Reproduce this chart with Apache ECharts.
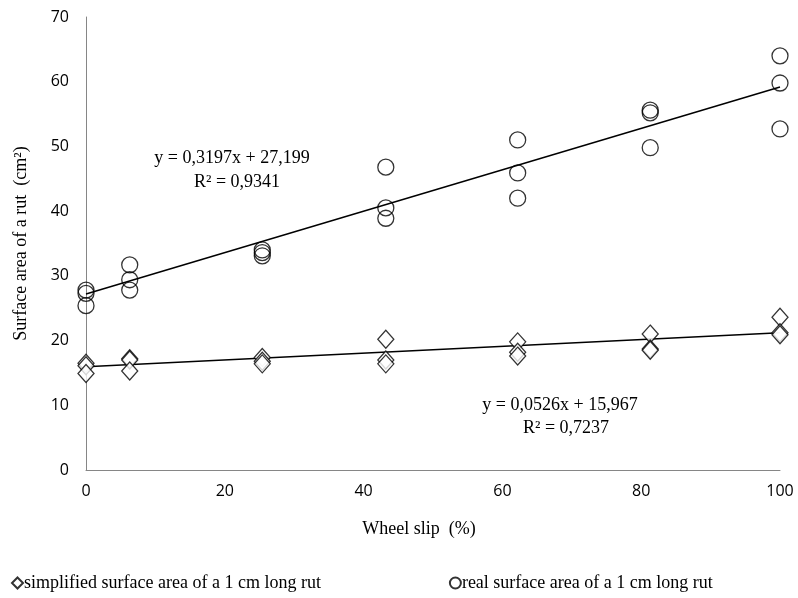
<!DOCTYPE html>
<html>
<head>
<meta charset="utf-8">
<script src="https://cdn.jsdelivr.net/npm/echarts@6/dist/echarts.min.js"></script>
<style>
  html, body { margin: 0; padding: 0; background: #fff; }
  #chart { width: 798px; height: 598px; }
</style>
</head>
<body>
<div id="chart"></div>
<script>
// wheel slip levels (%)
const slipX = [0, 6.3, 25.4, 43.2, 62.2, 81.3, 100]
// three repetitions per slip level
const realArea = [
    [27.8, 27.3, 25.4],
    [31.7, 29.4, 27.8],
    [34.0, 33.6, 33.1],
    [46.8, 40.5, 38.9],
    [51.0, 45.9, 42.0],
    [55.6, 55.2, 49.8],
    [64.0, 59.8, 52.7]
]
const simpArea = [
    [16.5, 16.1, 14.9],
    [17.2, 17.0, 15.3],
    [17.4, 16.8, 16.4],
    [20.2, 17.0, 16.4],
    [19.8, 18.2, 17.6],
    [21.0, 18.7, 18.5],
    [23.6, 21.2, 20.9]
]
// linear trend coefficients shown on the chart
const realFit = { slope: 0.3197, icpt: 27.199, r2: '0,9341', eq: 'y = 0,3197x + 27,199' }
const simpFit = { slope: 0.0526, icpt: 15.967, r2: '0,7237', eq: 'y = 0,0526x + 15,967' }
const yTicks = [0, 10, 20, 30, 40, 50, 60, 70]

const toPairs = (arr) => {
    let out = []
    arr.forEach((vals, i) => {
        vals.forEach(v => out.push([slipX[i], v]))
    })
    return out
}
const fitLine = (f) => [[0, f.icpt], [100, f.icpt + f.slope * 100]]

const serif = 'Liberation Serif'
const chart = echarts.init(document.getElementById('chart'))
const label = (txt, x, y) => ({
    type: 'text', x: x, y: y,
    style: { text: txt, font: '18px ' + serif, fill: '#000', align: 'center', verticalAlign: 'middle' }
})
const option = {
    animation: false,
    grid: { left: 86, right: 18, top: 17, bottom: 128 },
    xAxis: {
        type: 'value',
        min: 0, max: 100, interval: 20,
        name: 'Wheel slip  (%)',
        nameLocation: 'middle',
        nameGap: 50,
        nameTextStyle: { fontFamily: serif, fontSize: 18, color: '#000', padding: [0, 28, 0, 0] },
        axisLine: { lineStyle: { color: '#868686', width: 1 } },
        axisTick: { show: false },
        splitLine: { show: false },
        axisLabel: { fontFamily: 'Open Sans', fontSize: 16, color: '#000', margin: 13 }
    },
    yAxis: {
        type: 'value',
        min: yTicks[0], max: yTicks[yTicks.length - 1], interval: 10,
        name: 'Surface area of a rut  (cm²)',
        nameLocation: 'middle',
        nameGap: 56,
        nameTextStyle: { fontFamily: serif, fontSize: 18, color: '#000' },
        axisLine: { show: true, lineStyle: { color: '#868686', width: 1 } },
        axisTick: { show: false },
        splitLine: { show: false },
        axisLabel: { fontFamily: 'Open Sans', fontSize: 16, color: '#000', margin: 17 }
    },
    legend: {
        left: 6,
        top: 569,
        itemGap: 128,
        itemWidth: 11,
        itemHeight: 11,
        textStyle: { fontFamily: serif, fontSize: 18, color: '#000', padding: [0, 0, 0, -4] },
        data: [
            { name: 'simplified surface area of a 1 cm long rut', icon: 'diamond' },
            { name: 'real surface area of a 1 cm long rut', icon: 'circle' }
        ]
    },
    series: [
        {
            name: 'simplified surface area of a 1 cm long rut',
            type: 'scatter',
            symbol: 'diamond',
            symbolSize: [16, 18],
            itemStyle: { color: '#fff', borderColor: '#000', borderWidth: 1.3 },
            data: toPairs(simpArea),
            z: 3
        },
        {
            name: 'real surface area of a 1 cm long rut',
            type: 'scatter',
            symbol: 'circle',
            symbolSize: 16,
            itemStyle: { color: 'rgba(255,255,255,0)', borderColor: '#000', borderWidth: 1.3 },
            data: toPairs(realArea),
            z: 3
        },
        {
            type: 'line',
            data: fitLine(realFit),
            symbol: 'none',
            lineStyle: { color: '#000', width: 1.5 },
            z: 2
        },
        {
            type: 'line',
            data: fitLine(simpFit),
            symbol: 'none',
            lineStyle: { color: '#000', width: 1.5 },
            z: 2
        }
    ],
    graphic: [
        label(realFit.eq, 232, 158),
        label('R² = ' + realFit.r2, 237, 182),
        label(simpFit.eq, 560, 405),
        label('R² = ' + simpFit.r2, 566, 428)
    ]
}
chart.setOption(option)
</script>
</body>
</html>
